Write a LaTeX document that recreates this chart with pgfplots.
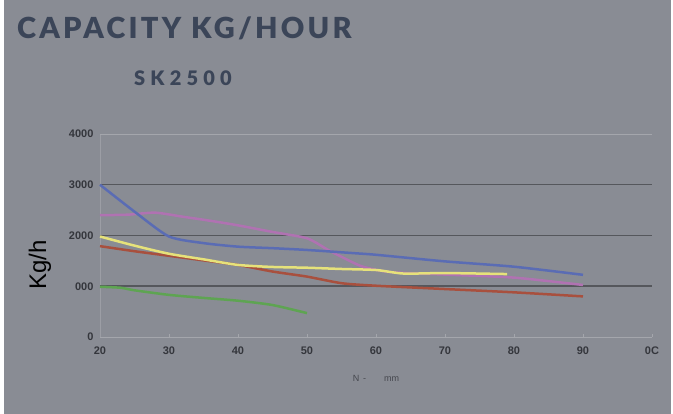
\documentclass[border=0pt]{standalone}
\usepackage{pgfplots}
\pgfplotsset{compat=1.18}
\usepackage{fontspec}
\setmainfont{Liberation Sans}
\newfontfamily\titlefont[LetterSpace=11]{Lato Black}
\newfontfamily\subfont[LetterSpace=26]{Lato Black}
\definecolor{bg}{HTML}{898C94}
\definecolor{titlec}{HTML}{3B4558}
\definecolor{ticklab}{HTML}{34363C}
\definecolor{gridd}{HTML}{55575C}
\definecolor{gridl}{HTML}{A4A6AC}
\definecolor{sblue}{HTML}{5A6CB4}
\definecolor{spink}{HTML}{B072B2}
\definecolor{syellow}{HTML}{E6E27A}
\definecolor{sred}{HTML}{A8503E}
\definecolor{sgreen}{HTML}{5EA452}
\begin{document}
\begin{tikzpicture}[x=1pt,y=1pt]
\fill[white] (0,0) rectangle (673,414);
\fill[bg] (4,0) rectangle (671,414);
\node[anchor=west,text=titlec,font=\titlefont\fontsize{29}{31}\selectfont,inner sep=0pt] at (17,386) {CAPACITY KG/HOUR};
\node[anchor=west,text=titlec,font=\subfont\fontsize{20}{22}\selectfont,inner sep=0pt] at (134,336) {SK2500};
\node[rotate=90,font=\fontsize{24}{26}\selectfont,text=black,inner sep=0pt] at (40,149) {Kg/h};
\begin{axis}[
  at={(100pt,77pt)}, anchor=south west,
  scale only axis, width=552pt, height=203pt,
  xmin=20, xmax=100, ymin=0, ymax=4000,
  xtick={20,30,40,50,60,70,80,90,100},
  xticklabels={20,30,40,50,60,70,80,90,0C},
  ytick={0,1000,2000,3000,4000},
  yticklabels={0,000,2000,3000,4000},
  tick label style={font=\bfseries\fontsize{11}{13}\selectfont,text=ticklab},
  /pgf/number format/assume math mode=true,
  xticklabel style={yshift=-6pt},
  yticklabel style={xshift=-3pt},
  axis line style={gridl,line width=0.6pt},
  axis x line*=bottom, axis y line*=left,
  y axis line style={draw=gridl!70!bg},
  tick style={gridl,line width=0.5pt},
  major tick length=3pt,
  ytick style={draw=none},
  xlabel={N \,-\qquad mm},
  xlabel style={font=\fontsize{9}{10}\selectfont,text=ticklab!80!bg,yshift=-14pt},
  clip=false,
  line join=round,
]
\draw[gridl,line width=0.6pt] (axis cs:20,4000) -- (axis cs:100,4000);
\draw[gridd,line width=1.5pt] (axis cs:20,1000) -- (axis cs:100,1000);
\draw[gridd,line width=1.5pt] (axis cs:20,2000) -- (axis cs:100,2000);
\draw[gridd,line width=1.5pt] (axis cs:20,3000) -- (axis cs:100,3000);
\addplot[sgreen,line width=2.5pt,smooth,tension=0.4] coordinates {
(20,990) (23,970) (25,920) (30,830) (35,770) (40,715) (45,630) (50,470)};
\addplot[sred,line width=2.5pt,smooth,tension=0.4] coordinates {
(20,1790) (25,1690) (30,1600) (35,1510) (40,1420) (45,1290) (50,1190) (55,1060) (60,1010) (70,945) (80,880) (90,800)};
\addplot[spink,line width=2.5pt,smooth,tension=0.4] coordinates {
(20,2400) (24,2410) (28,2450) (32,2370) (36,2290) (40,2200) (45,2070) (50,1945) (53,1720) (55,1580) (58,1390) (62,1280) (70,1230) (80,1170) (90,1025)};
\addplot[syellow,line width=2.5pt,smooth,tension=0.4] coordinates {
(20,1980) (25,1800) (30,1640) (35,1530) (40,1420) (45,1380) (50,1365) (55,1340) (60,1320) (64,1250) (70,1260) (79,1240)};
\addplot[sblue,line width=2.5pt,smooth,tension=0.4] coordinates {
(20,3000) (25,2470) (30,1980) (35,1850) (40,1780) (45,1750) (50,1715) (57,1650) (60,1620) (70,1490) (80,1385) (90,1225)};
\end{axis}
\end{tikzpicture}
\end{document}
